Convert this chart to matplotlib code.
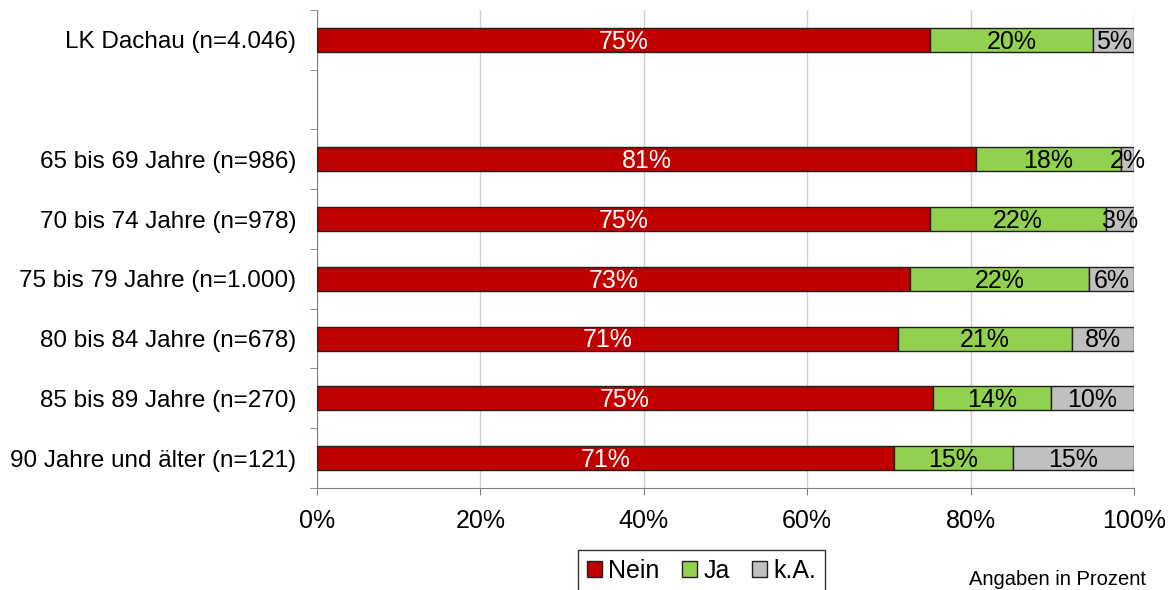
import matplotlib
matplotlib.use('Agg')
import matplotlib.pyplot as plt
from matplotlib.patches import Patch

plt.rcParams['font.family'] = ['Liberation Sans', 'DejaVu Sans']

# row labels, top to bottom (None = empty gap row)
labels = ['LK Dachau (n=4.046)', None, '65 bis 69 Jahre (n=986)', '70 bis 74 Jahre (n=978)',
          '75 bis 79 Jahre (n=1.000)', '80 bis 84 Jahre (n=678)', '85 bis 89 Jahre (n=270)',
          '90 Jahre und älter (n=121)']
nein = [75.0, None, 80.7, 75.0, 72.6, 71.1, 75.4, 70.6]
ja = [20.0, None, 17.7, 21.6, 21.9, 21.3, 14.4, 14.6]
ka = [5.0, None, 1.6, 3.4, 5.5, 7.6, 10.2, 14.8]

series = [('Nein', nein, '#C00000', 'white'),
          ('Ja', ja, '#92D050', 'black'),
          ('k.A.', ka, '#C0C0C0', 'black')]

fig = plt.figure(figsize=(11.75, 5.9), dpi=100)
ax = fig.add_axes([0.2698, 0.1729, 0.6953, 0.8102])

rows = [i for i, l in enumerate(labels) if l is not None]
left = {i: 0.0 for i in rows}
for name, vals, col, tcol in series:
    for i in rows:
        v = vals[i]
        ax.barh(i, v, left=left[i], height=0.4, color=col, edgecolor='#202020', linewidth=1, zorder=3)
        ax.text(left[i] + v / 2, i + 0.03, '{:.0f}%'.format(v), ha='center', va='center',
                fontsize=18, color=tcol, zorder=4)
        left[i] += v

ax.set_xlim(0, 100)
ax.set_ylim(7.5, -0.5)
ax.set_xticks(range(0, 101, 20))
ax.set_xticklabels([f'{t}%' for t in range(0, 101, 20)], fontsize=18)
ax.set_yticks(rows)
ax.set_yticklabels([labels[i] for i in rows], fontsize=17.5)
ax.set_yticks([b - 0.5 for b in range(9)], minor=True)
ax.tick_params(axis='y', which='major', length=0, pad=15)
ax.tick_params(axis='y', which='minor', length=5, color='#808080')
ax.tick_params(axis='x', length=5, color='#808080', pad=10)
ax.grid(axis='x', color='#D0D0D0', linewidth=1, zorder=0)
for s in ['top', 'right']:
    ax.spines[s].set_visible(False)
for s in ['left', 'bottom']:
    ax.spines[s].set_color('#808080')

handles = [Patch(facecolor=c, edgecolor='#202020', label=n) for n, _, c, _ in series]
leg = fig.legend(handles=handles, loc='upper center', bbox_to_anchor=(0.597, 0.068), ncol=3,
                 fontsize=18, frameon=True, fancybox=False, edgecolor='black',
                 handlelength=0.6, handleheight=0.6, handletextpad=0.25, columnspacing=0.9,
                 borderpad=0.35, borderaxespad=0)
leg.get_frame().set_linewidth(1)

fig.text(0.9, 0.018, 'Angaben in Prozent', ha='center', va='center', fontsize=14.5)

fig.savefig('out.png', dpi=100)
